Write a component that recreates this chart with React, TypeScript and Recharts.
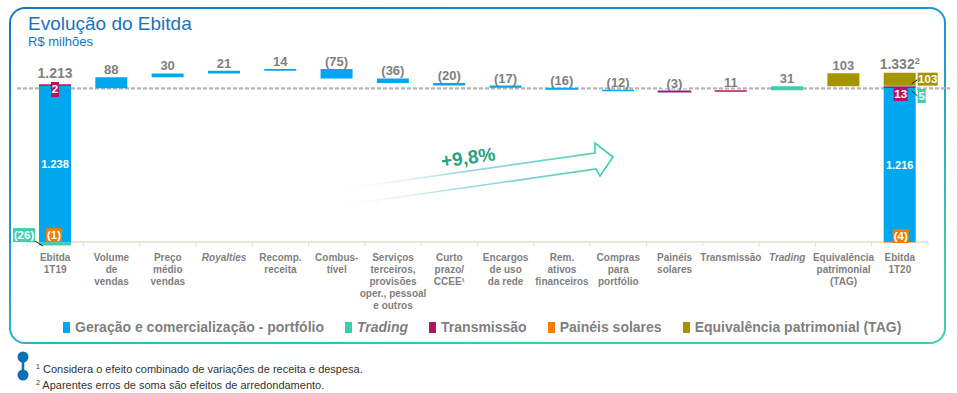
import React from 'react';
import { ComposedChart, Bar, XAxis, YAxis, ReferenceLine, LabelList, Cell } from 'recharts';

const FONT = '"Liberation Sans", Arial, Helvetica, sans-serif';
const GRAY = '#7f7f7f';
const COLORS: Record<string, string> = {
  gen: '#00a6ee',
  trading: '#3dcfad',
  trans: '#b2155d',
  solar: '#f07d00',
  tag: '#a39400',
};
const SOLAR_DELTA = '#8a1f7c';

// categories (x axis, one entry per line of the label)
const categories: string[][] = [
  ['Ebitda', '1T19'],
  ['Volume', 'de', 'vendas'],
  ['Preço', 'médio', 'vendas'],
  ['Royalties'],
  ['Recomp.', 'receita'],
  ['Combus-', 'tível'],
  ['Serviços', 'terceiros,', 'provisões', 'oper., pessoal', 'e outros'],
  ['Curto', 'prazo/', 'CCEE¹'],
  ['Encargos', 'de uso', 'da rede'],
  ['Rem.', 'ativos', 'financeiros'],
  ['Compras', 'para', 'portfólio'],
  ['Painéis', 'solares'],
  ['Transmissão'],
  ['Trading'],
  ['Equivalência', 'patrimonial', '(TAG)'],
  ['Ebitda', '1T20'],
];
const italicCategories = ['Royalties', 'Trading'];

// variations between the two quarters (R$ milhões)
const deltas = [0, 88, 30, 21, 14, -75, -36, -20, -17, -16, -12, -3, 11, 31, 103, 0];
const deltaSeries = ['', 'gen', 'gen', 'gen', 'gen', 'gen', 'gen', 'gen', 'gen', 'gen', 'gen', 'solar', 'trans', 'trading', 'tag', ''];

// composition of the two Ebitda bars, in seriesKeys order
const seriesKeys = ['gen', 'trans', 'trading', 'solar', 'tag'];
const ebitda1T19 = [1238, 2, -26, -1, 0];
const ebitda1T20 = [1216, 13, 5, -4, 103];
const ebitdaTotals = [1213, 1332];

const legendKeys = ['gen', 'trading', 'trans', 'solar', 'tag'];
const legendLabels = ['Geração e comercialização - portfólio', 'Trading', 'Transmissão', 'Painéis solares', 'Equivalência patrimonial (TAG)'];

const footnotes = [
  'Considera o efeito combinado de variações de receita e despesa.',
  'Aparentes erros de soma são efeitos de arredondamento.',
];

const LAST = categories.length - 1;
let level = ebitdaTotals[0];
const rows = categories.map((lines, i) => {
  const row: Record<string, any> = { name: lines.join(' '), base: 0, gen: 0, trans: 0, trading: 0, solar: 0, tag: 0 };
  if (i === 0 || i === LAST) {
    const mix = i === 0 ? ebitda1T19 : ebitda1T20;
    seriesKeys.forEach((k, j) => (row[k] = mix[j]));
  } else {
    const d = deltas[i];
    row.base = Math.min(level, level + d);
    row[deltaSeries[i]] = Math.abs(d);
    level += d;
  }
  return row;
});

const CHART_W = 957;
const MARGIN = { top: 52, right: 29, bottom: 14.5, left: 27 };
const BAND = (CHART_W - MARGIN.left - MARGIN.right) / categories.length;

// zero-height bars are skipped by the label list, so find the category from the bar position
const categoryAt = (x: number, width: number) => Math.floor((x + width / 2 - MARGIN.left) / BAND);

const fmt = (n: number) => {
  const s = Math.abs(n).toString().replace(/\B(?=(\d{3})+(?!\d))/g, '.');
  return n < 0 ? `(${s})` : s;
};

const AxisTick = (props: any) => {
  const { x, y, index } = props;
  const lines = categories[index] ?? [];
  const italic = italicCategories.includes(lines[0]);
  const tickStyle = { stroke: '#e2ddcf', strokeWidth: 1 };
  return (
    <g>
      <line x1={x - BAND / 2} x2={x - BAND / 2} y1={y - 3} y2={y + 1} {...tickStyle} />
      {index === LAST && <line x1={x + BAND / 2} x2={x + BAND / 2} y1={y - 3} y2={y + 1} {...tickStyle} />}
      <text x={x} y={y + 15.5} textAnchor="middle" fontFamily={FONT} fontSize={10} fontWeight="bold" fill={GRAY} fontStyle={italic ? 'italic' : 'normal'}>
        {lines.map((l, j) => (
          <tspan key={j} x={x} dy={j ? 12 : 0}>{l}</tspan>
        ))}
      </text>
    </g>
  );
};

const Box = ({ x, y, w, h, fill, text }: { x: number; y: number; w: number; h: number; fill: string; text: string }) => (
  <g>
    <rect x={x} y={y} width={w} height={h} fill={fill} />
    <text x={x + w / 2} y={y + h / 2 + 4} textAnchor="middle" fontFamily={FONT} fontSize={11.5} fontWeight="bold" fill="#fff">{text}</text>
  </g>
);

const deltaLabel = (key: string) => (p: any) => {
  const { x, y, width, height } = p;
  const index = categoryAt(x, width);
  if (deltaSeries[index] !== key) return null;
  const top = Math.min(y, y + height);
  const cx = x + width / 2;
  const txt = fmt(deltas[index]);
  const w = txt.length * 7.4 + 4;
  return (
    <g>
      <rect x={cx - w / 2} y={top - 15} width={w} height={12} fill="#fff" />
      <text x={cx} y={top - 3} textAnchor="middle" fontFamily={FONT} fontSize={13} fontWeight="bold" fill={GRAY}>{txt}</text>
    </g>
  );
};

const TotalMarks = ({ x, y, width, height, index }: any) => {
  const mix = index === 0 ? ebitda1T19 : ebitda1T20;
  const k = height / mix[0];
  const cx = x + width / 2;
  const bottom = y + height;
  const above = mix.reduce((s, v, j) => (j > 0 && v > 0 ? s + v : s), 0);
  const fullTop = y - above * k;
  const total = ebitdaTotals[index === 0 ? 0 : 1];
  const lead = { stroke: '#222', strokeWidth: 1 };
  return (
    <g>
      <text x={cx} y={y + height / 2 + 4} textAnchor="middle" fontFamily={FONT} fontSize={11} fontWeight="bold" fill="#fff">{fmt(mix[0])}</text>
      {index === 0 ? (
        <g>
          <Box x={cx - 4} y={fullTop - 3} w={8} h={15} fill={COLORS.trans} text={fmt(mix[1])} />
          <Box x={cx - 9} y={bottom - 14} w={16} h={14} fill={COLORS.solar} text={fmt(mix[3])} />
          <line x1={x - 4} y1={bottom - 1} x2={x + 4} y2={bottom + 4} {...lead} />
          <Box x={x - 26} y={bottom - 14} w={22} h={14} fill={COLORS.trading} text={fmt(mix[2])} />
          <text x={cx} y={fullTop - 7} textAnchor="middle" fontFamily={FONT} fontSize={14} fontWeight="bold" fill={GRAY}>{fmt(total)}</text>
        </g>
      ) : (
        <g>
          <Box x={cx - 6} y={y - 1} w={14} h={14} fill={COLORS.trans} text={fmt(mix[1])} />
          <line x1={x + width - 4} y1={fullTop + 11} x2={x + width + 2} y2={fullTop + 7} {...lead} />
          <Box x={x + width + 2} y={fullTop} w={20} h={13} fill={COLORS.tag} text={fmt(mix[4])} />
          <line x1={x + width - 4} y1={y + 3} x2={x + width + 2} y2={y + 8} {...lead} />
          <Box x={x + width + 2} y={y + 1} w={8} h={14} fill={COLORS.trading} text={fmt(mix[2])} />
          <Box x={cx - 7} y={bottom - 13} w={16} h={14} fill={COLORS.solar} text={fmt(mix[3])} />
          <text x={cx} y={fullTop - 4} textAnchor="middle" fontFamily={FONT} fontSize={14} fontWeight="bold" fill={GRAY}>
            {fmt(total)}
            <tspan fontSize={9} dy={-5}>2</tspan>
          </text>
        </g>
      )}
    </g>
  );
};

const genLabel = (p: any) => {
  const index = categoryAt(p.x, p.width);
  return index === 0 || index === LAST ? <TotalMarks {...p} index={index} /> : deltaLabel('gen')(p);
};

const DashedShape = (p: any) => (
  <line x1={p.x1 - 10} y1={p.y1} x2={p.x2 + 22} y2={p.y2} stroke="#b5b5b5" strokeWidth={2.2} strokeDasharray="4 2" />
);

const Legend = () => (
  <div style={{ position: 'absolute', left: 63, top: 319, display: 'flex', gap: 21, fontFamily: FONT, fontSize: 14, fontWeight: 'bold', color: GRAY, whiteSpace: 'nowrap' }}>
    {legendKeys.map((k, i) => (
      <div key={k} style={{ display: 'flex', alignItems: 'center', gap: 5 }}>
        <span style={{ width: 7, height: 11, background: COLORS[k], display: 'inline-block' }} />
        <span style={{ fontStyle: k === 'trading' ? 'italic' : 'normal' }}>{legendLabels[i]}</span>
      </div>
    ))}
  </div>
);

const Arrow = () => (
  <svg width={957} height={393} style={{ position: 'absolute', left: 0, top: 0, pointerEvents: 'none' }}>
    <defs>
      <linearGradient id="arrowGrad" gradientUnits="userSpaceOnUse" x1={325} y1={195} x2={615} y2={155}>
        <stop offset="0" stopColor="#ffffff" stopOpacity={0} />
        <stop offset="0.45" stopColor="#a8d8ea" />
        <stop offset="1" stopColor="#3ccfad" />
      </linearGradient>
    </defs>
    <path d="M322,192 L595,153 L595,143 L613,157 L600,176 L596,169 L322,208" fill="none" stroke="url(#arrowGrad)" strokeWidth={1.7} />
    <text x={468} y={164} transform="rotate(-8 468 157)" textAnchor="middle" fontFamily={FONT} fontSize={19} fontWeight="bold" fill="#26a383">+9,8%</text>
  </svg>
);

export default function App() {
  return (
    <div style={{ position: 'relative', width: 957, height: 393, background: '#fff', overflow: 'hidden' }}>
      <style>{'body{margin:0}'}</style>
      <div
        style={{
          position: 'absolute', left: 9, top: 7, width: 937, height: 337, boxSizing: 'border-box',
          border: '2px solid transparent', borderRadius: 16,
          background: 'linear-gradient(#fff,#fff) padding-box, linear-gradient(168deg, #1576c0 0%, #1d9ad8 45%, #3ccfad 85%) border-box',
        }}
      />
      <div style={{ position: 'absolute', left: 28, top: 13, fontFamily: FONT, fontSize: 19, color: '#1a73b9', lineHeight: '22px' }}>Evolução do Ebitda</div>
      <div style={{ position: 'absolute', left: 28, top: 34, fontFamily: FONT, fontSize: 13, color: '#1a73b9', lineHeight: '15px' }}>R$ milhões</div>

      <div style={{ position: 'absolute', left: 0, top: 0 }}>
        <ComposedChart width={CHART_W} height={320} data={rows} margin={MARGIN} stackOffset="sign" barCategoryGap={0}>
          <XAxis dataKey="name" interval={0} tick={<AxisTick />} axisLine={false} tickLine={false} tickSize={0} tickMargin={0} height={60} />
          <YAxis hide type="number" domain={[-27, 1500]} />
          <ReferenceLine y={0} stroke="#e2ddcf" strokeWidth={1.5} zIndex={-50} />
          <ReferenceLine y={ebitdaTotals[0]} shape={DashedShape} zIndex={-50} />
          <Bar dataKey="base" stackId="w" fill="transparent" barSize={32} isAnimationActive={false} />
          <Bar dataKey="gen" stackId="w" fill={COLORS.gen} barSize={32} isAnimationActive={false}>
            <LabelList content={genLabel} />
          </Bar>
          <Bar dataKey="trans" stackId="w" fill={COLORS.trans} barSize={32} isAnimationActive={false}>
            {rows.map((_, i) => (
              <Cell key={i} fill={COLORS.trans} stroke={i === 0 ? COLORS.trans : 'none'} />
            ))}
            <LabelList content={deltaLabel('trans')} />
          </Bar>
          <Bar dataKey="trading" stackId="w" fill={COLORS.trading} barSize={32} isAnimationActive={false}>
            <LabelList content={deltaLabel('trading')} />
          </Bar>
          <Bar dataKey="solar" stackId="w" fill={COLORS.solar} barSize={32} isAnimationActive={false}>
            {rows.map((_, i) => (
              <Cell key={i} fill={deltaSeries[i] === 'solar' ? SOLAR_DELTA : COLORS.solar} stroke={deltaSeries[i] === 'solar' ? SOLAR_DELTA : 'none'} strokeWidth={1.5} />
            ))}
            <LabelList content={deltaLabel('solar')} />
          </Bar>
          <Bar dataKey="tag" stackId="w" fill={COLORS.tag} barSize={32} isAnimationActive={false}>
            <LabelList content={deltaLabel('tag')} />
          </Bar>
        </ComposedChart>
      </div>

      <Arrow />
      <Legend />

      <svg width={20} height={40} style={{ position: 'absolute', left: 13, top: 346 }}>
        <line x1={10} y1={11} x2={10} y2={29} stroke="#0b6fb8" strokeWidth={2.5} />
        <circle cx={10} cy={11} r={5.5} fill="#0b6fb8" />
        <circle cx={10} cy={29} r={5.5} fill="#0b6fb8" />
      </svg>
      <div style={{ position: 'absolute', left: 36, top: 360, fontFamily: FONT, fontSize: 11, color: '#333', lineHeight: '13px' }}>
        {footnotes.map((f, i) => (
          <div key={i}>
            <sup style={{ fontSize: 7, verticalAlign: 4 }}>{i + 1}</sup> {f}
          </div>
        ))}
      </div>
    </div>
  );
}
